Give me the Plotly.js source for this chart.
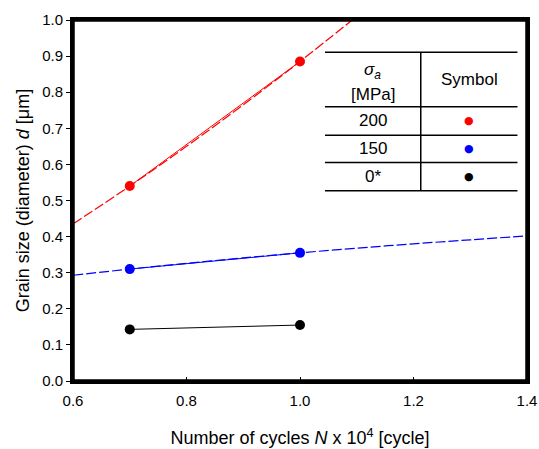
<!DOCTYPE html>
<html>
<head>
<meta charset="utf-8">
<script src="https://cdn.plot.ly/plotly-3.0.1.min.js"></script>
<style>html,body{margin:0;padding:0;background:#fff;}#chart{width:539px;height:449px;}</style>
</head>
<body>
<div id="chart"></div>
<script>
// Measured data (N x 10^4 cycles, grain size d in µm)
const cycles = [0.7, 1.0];
const d200 = [0.54, 0.885];
const d150 = [0.31, 0.355];
const d0 = [0.143, 0.155];

// Fitted (dashed) curves
const fit200X = [0.6, 0.7, 0.8, 0.9, 1.0, 1.1];
const fit200Y = [0.435, 0.54, 0.65, 0.765, 0.885, 1.01];
const fit150X = [0.6, 0.7, 0.8, 0.9, 1.0, 1.1, 1.2, 1.3, 1.4];
const fit150Y = [0.293, 0.31, 0.326, 0.341, 0.355, 0.368, 0.380, 0.391, 0.402];

// Legend table
const legendLabels = ['200', '150', '0*'];
const legendColors = ['#ff0000', '#0000ff', '#000000'];

const FONT = 'Liberation Sans, Arial, sans-serif';

const traces = [
  {x: fit200X, y: fit200Y, mode: 'lines', line: {color: '#ff0000', width: 1.2, dash: '10px,3px', shape: 'spline'}, hoverinfo: 'skip'},
  {x: fit150X, y: fit150Y, mode: 'lines', line: {color: '#0000ff', width: 1.2, dash: '10px,3px', shape: 'spline'}, hoverinfo: 'skip'},
  {x: cycles, y: d200, mode: 'lines+markers', line: {color: '#ff0000', width: 1}, marker: {color: '#ff0000', size: 10}},
  {x: cycles, y: d150, mode: 'lines+markers', line: {color: '#0000ff', width: 1}, marker: {color: '#0000ff', size: 10}},
  {x: cycles, y: d0, mode: 'lines+markers', line: {color: '#000000', width: 1}, marker: {color: '#000000', size: 10}}
];

// Table geometry (paper coords)
const tx0 = 0.555, tx1 = 0.979, tdiv = 0.766;
const rowY = [0.9105, 0.760, 0.681, 0.605, 0.527];
const shapes = [];
rowY.forEach(y => shapes.push({type: 'line', xref: 'paper', yref: 'paper', x0: tx0, x1: tx1, y0: y, y1: y, line: {color: '#000', width: 1.5}}));
shapes.push({type: 'line', xref: 'paper', yref: 'paper', x0: tdiv, x1: tdiv, y0: rowY[0], y1: rowY[4], line: {color: '#000', width: 1.5}});
// thick plot frame
shapes.push({type: 'rect', xref: 'paper', yref: 'paper', x0: 0, x1: 1, y0: 0, y1: 1, line: {color: '#000', width: 3.5}, fillcolor: 'rgba(0,0,0,0)'});

const colA = (tx0 + tdiv) / 2, colB = (tdiv + tx1) / 2;
function ann(x, y, text, font) {
  return {xref: 'paper', yref: 'paper', x: x, y: y, xanchor: 'center', yanchor: 'middle', text: text, showarrow: false, font: font};
}
const tf = {family: FONT, size: 17, color: '#000'};
const annotations = [
  ann(colA, 0.858, '<i>σ</i><sub><i>a</i></sub>', tf),
  ann(colA, 0.794, '[MPa]', tf),
  ann(colB, 0.835, 'Symbol', tf)
];
legendLabels.forEach((lab, i) => {
  const yc = (rowY[i + 1] + rowY[i + 2]) / 2;
  annotations.push(ann(colA, yc, lab, tf));
  annotations.push(ann(colB, yc, '●', {family: 'DejaVu Sans', size: 11, color: legendColors[i]}));
});

const layout = {
  width: 539, height: 449,
  margin: {l: 73, r: 12, t: 20, b: 68},
  paper_bgcolor: '#fff', plot_bgcolor: '#fff',
  showlegend: false,
  font: {family: FONT, size: 15, color: '#000'},
  xaxis: {
    range: [0.6, 1.4], dtick: 0.2, tickformat: '.1f',
    showgrid: false, zeroline: false,
    showline: true, linecolor: '#000', linewidth: 3, mirror: true,
    ticks: 'inside', ticklen: 4, tickcolor: '#000', tickwidth: 1,
    ticklabelstandoff: 4,
    tickfont: {family: FONT, size: 15},
    title: {text: 'Number of cycles <i>N</i> x 10<sup>4</sup> [cycle]', font: {family: FONT, size: 18}, standoff: 24}
  },
  yaxis: {
    range: [0, 1.0], dtick: 0.1, tickformat: '.1f',
    showgrid: false, zeroline: false,
    showline: true, linecolor: '#000', linewidth: 3, mirror: true,
    ticks: 'outside', ticklen: 4, tickcolor: '#000', tickwidth: 1,
    tickfont: {family: FONT, size: 15},
    title: {text: 'Grain size (diameter) <i>d</i> [μm]', font: {family: FONT, size: 18}, standoff: 8}
  },
  shapes: shapes,
  annotations: annotations
};

Plotly.newPlot('chart', traces, layout, {staticPlot: true, displayModeBar: false});
</script>
</body>
</html>
